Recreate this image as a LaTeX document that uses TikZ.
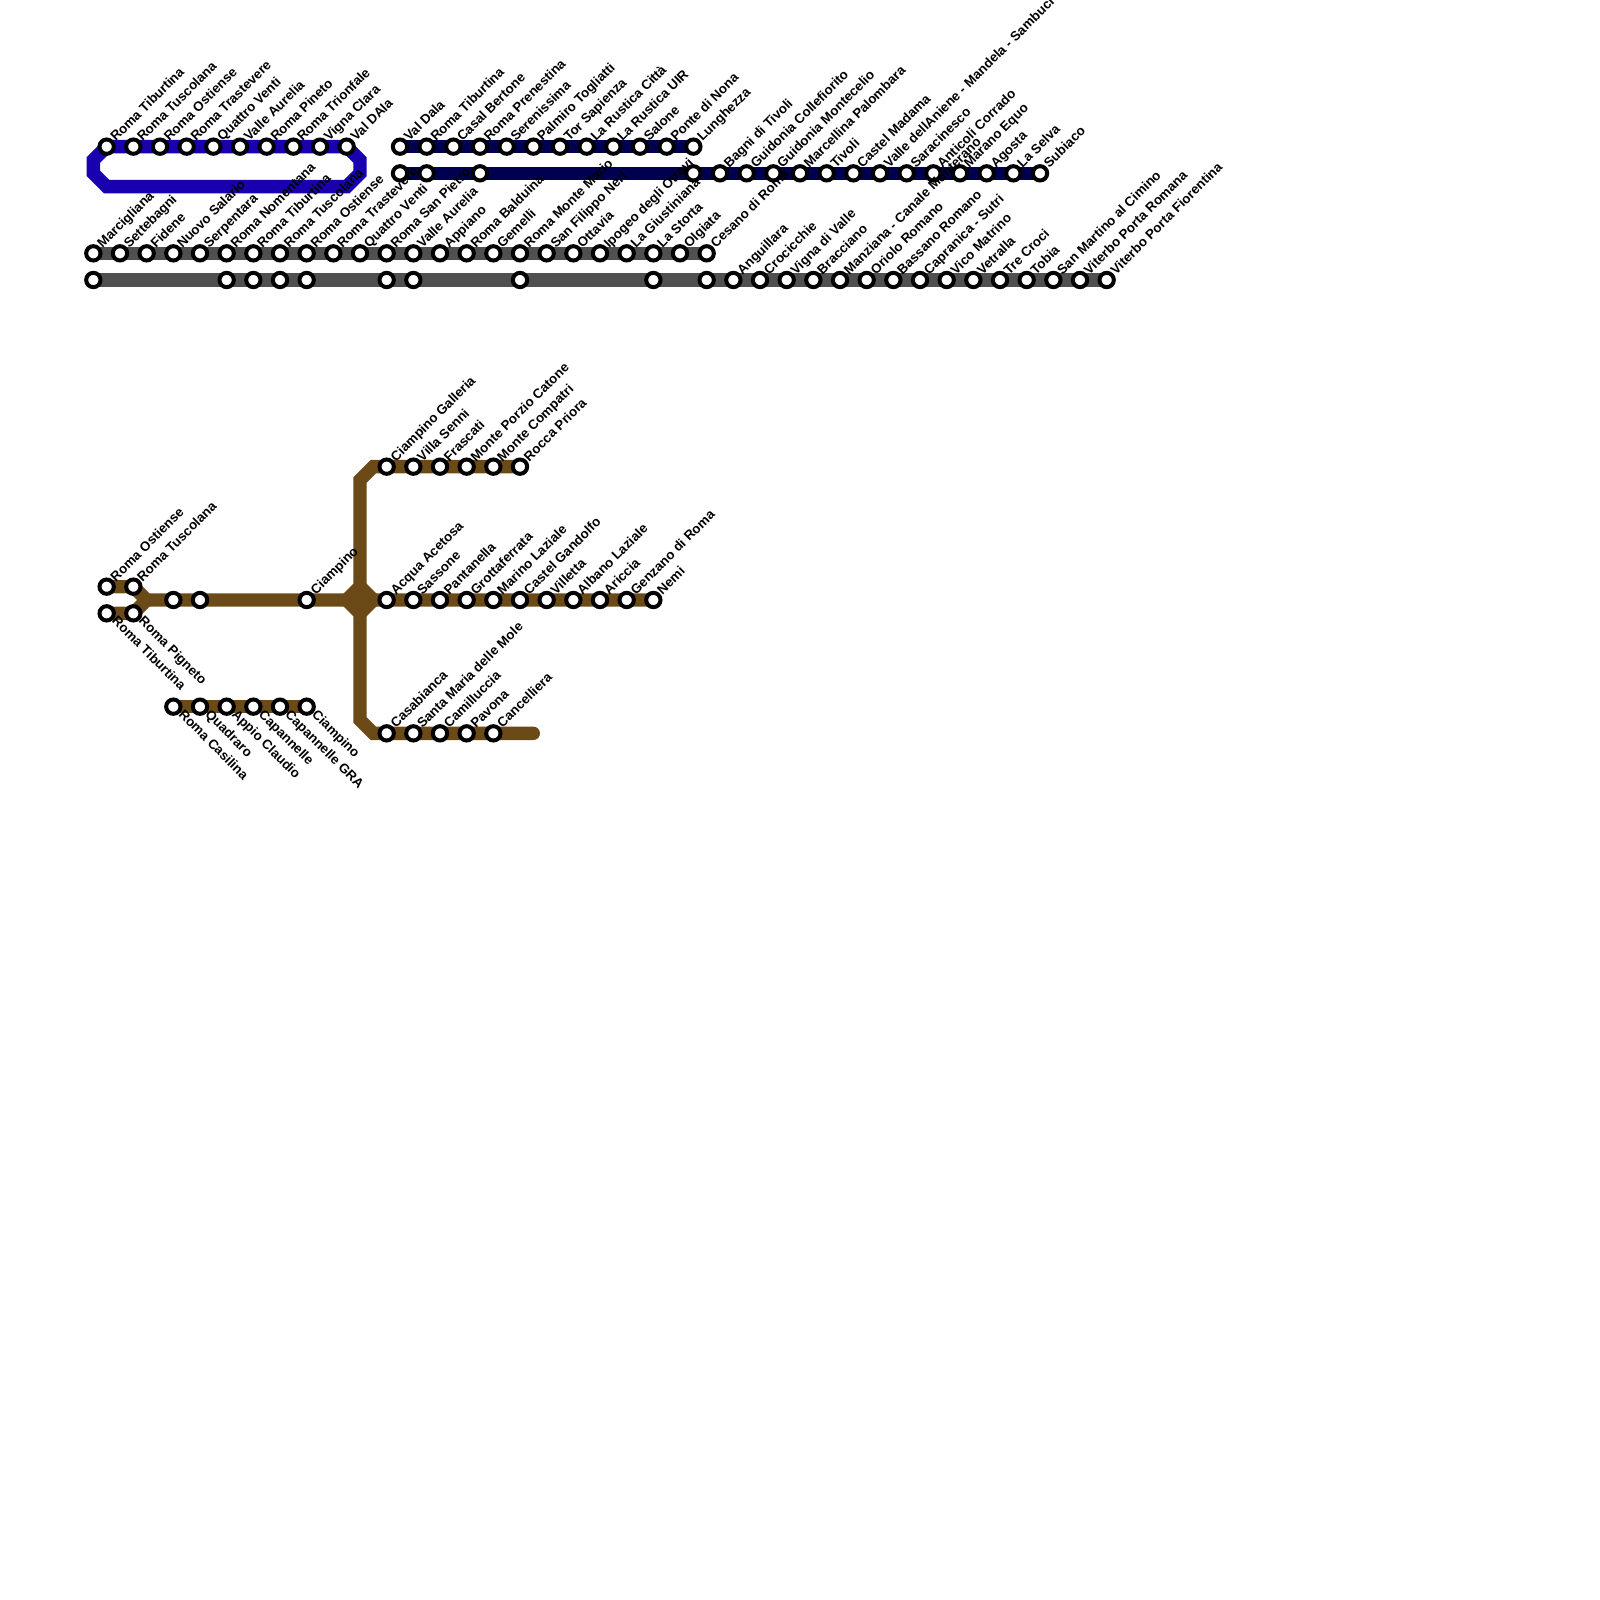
\documentclass[tikz,border=0pt]{standalone}
\usepackage{fontspec}
\setmainfont{Liberation Sans}
\usepackage{xcolor}
\usetikzlibrary{backgrounds}
\definecolor{lineblue}{HTML}{1800B0}
\definecolor{linenavy}{HTML}{000050}
\definecolor{linegray}{HTML}{505050}
\definecolor{linebrown}{HTML}{6B4A17}
\newcommand{\stopup}[4]{%
    % #1=name, #2=x, #3=y, #4=label
    \node[stop] (#1) at (#2,#3) {};
    \node[stopnameup] (#1l) at ([shift={(0.135cm,0.065cm)}]#1.center) {#4};
}
\newcommand{\stopdown}[4]{%
    % #1=name, #2=x, #3=y, #4=label
    \node[stop] (#1) at (#2,#3) {};
    \node[stopnamedown] (#1l) at ([shift={(0.065cm,-0.125cm)}]#1.center) {#4};
}
\newcommand{\stopbare}[3]{%
    % #1=name, #2=x, #3=y
    \node[stop] (#1) at (#2,#3) {};
}

\begin{document}
\begin{tikzpicture}[x=0.4cm, y=-0.4cm,
    stop/.style={circle, draw=black, fill=white, line width=0.06cm, minimum size=0.215cm, inner sep=0pt, outer sep=0pt},
    stopnameup/.style={rotate=45, anchor=base west, inner sep=0pt, font=\fontsize{5.69}{6}\selectfont\bfseries},
    stopnamedown/.style={rotate=-45, anchor=base west, inner sep=0pt, font=\fontsize{5.69}{6}\selectfont\bfseries},
    track/.style={line width=0.2cm, line cap=round, miter limit=10}
]
    \useasboundingbox (0,0) rectangle (60,60);

    % Blue loop
    \stopup{bl1}{4}{5.5}{Roma Tiburtina}
    \stopup{bl2}{5}{5.5}{Roma Tuscolana}
    \stopup{bl3}{6}{5.5}{Roma Ostiense}
    \stopup{bl4}{7}{5.5}{Roma Trastevere}
    \stopup{bl5}{8}{5.5}{Quattro Venti}
    \stopup{bl6}{9}{5.5}{Valle Aurelia}
    \stopup{bl7}{10}{5.5}{Roma Pineto}
    \stopup{bl8}{11}{5.5}{Roma Trionfale}
    \stopup{bl9}{12}{5.5}{Vigna Clara}
    \stopup{bl10}{13}{5.5}{Val DAla}
    \coordinate (blnw) at (3.5,6);
    \coordinate (blw) at (3.5,6.5);
    \coordinate (blsw) at (4,7);
    \coordinate (blse) at (13,7);
    \coordinate (ble) at (13.5,6.5);
    \coordinate (blne) at (13.5,6);

    % Navy line - upper row
    \stopup{na1}{15}{5.5}{Val Dala}
    \stopup{na2}{16}{5.5}{Roma Tiburtina}
    \stopup{na3}{17}{5.5}{Casal Bertone}
    \stopup{na4}{18}{5.5}{Roma Prenestina}
    \stopup{na5}{19}{5.5}{Serenissima}
    \stopup{na6}{20}{5.5}{Palmiro Togliatti}
    \stopup{na7}{21}{5.5}{Tor Sapienza}
    \stopup{na8}{22}{5.5}{La Rustica Città}
    \stopup{na9}{23}{5.5}{La Rustica UIR}
    \stopup{na10}{24}{5.5}{Salone}
    \stopup{na11}{25}{5.5}{Ponte di Nona}
    \stopup{na12}{26}{5.5}{Lunghezza}

    % Navy line - lower row
    \stopbare{nb1}{15}{6.5}
    \stopbare{nb2}{16}{6.5}
    \stopbare{nb3}{18}{6.5}
    \stopbare{nb4}{26}{6.5}
    \stopup{nb5}{27}{6.5}{Bagni di Tivoli}
    \stopup{nb6}{28}{6.5}{Guidonia Collefiorito}
    \stopup{nb7}{29}{6.5}{Guidonia Montecelio}
    \stopup{nb8}{30}{6.5}{Marcellina Palombara}
    \stopup{nb9}{31}{6.5}{Tivoli}
    \stopup{nb10}{32}{6.5}{Castel Madama}
    \stopup{nb11}{33}{6.5}{Valle dellAniene - Mandela - Sambuci}
    \stopup{nb12}{34}{6.5}{Saracinesco}
    \stopup{nb13}{35}{6.5}{Anticoli Corrado}
    \stopup{nb14}{36}{6.5}{Marano Equo}
    \stopup{nb15}{37}{6.5}{Agosta}
    \stopup{nb16}{38}{6.5}{La Selva}
    \stopup{nb17}{39}{6.5}{Subiaco}

    % Gray line - upper row
    \stopup{ga1}{3.5}{9.5}{Marcigliana}
    \stopup{ga2}{4.5}{9.5}{Settebagni}
    \stopup{ga3}{5.5}{9.5}{Fidene}
    \stopup{ga4}{6.5}{9.5}{Nuovo Salario}
    \stopup{ga5}{7.5}{9.5}{Serpentara}
    \stopup{ga6}{8.5}{9.5}{Roma Nomentana}
    \stopup{ga7}{9.5}{9.5}{Roma Tiburtina}
    \stopup{ga8}{10.5}{9.5}{Roma Tuscolana}
    \stopup{ga9}{11.5}{9.5}{Roma Ostiense}
    \stopup{ga10}{12.5}{9.5}{Roma Trastevere}
    \stopup{ga11}{13.5}{9.5}{Quattro Venti}
    \stopup{ga12}{14.5}{9.5}{Roma San Pietro}
    \stopup{ga13}{15.5}{9.5}{Valle Aurelia}
    \stopup{ga14}{16.5}{9.5}{Appiano}
    \stopup{ga15}{17.5}{9.5}{Roma Balduina}
    \stopup{ga16}{18.5}{9.5}{Gemelli}
    \stopup{ga17}{19.5}{9.5}{Roma Monte Mario}
    \stopup{ga18}{20.5}{9.5}{San Filippo Neri}
    \stopup{ga19}{21.5}{9.5}{Ottavia}
    \stopup{ga20}{22.5}{9.5}{Ipogeo degli Ottavi}
    \stopup{ga21}{23.5}{9.5}{La Giustiniana}
    \stopup{ga22}{24.5}{9.5}{La Storta}
    \stopup{ga23}{25.5}{9.5}{Olgiata}
    \stopup{ga24}{26.5}{9.5}{Cesano di Roma}

    % Gray line - lower row
    \stopbare{gb1}{3.5}{10.5}
    \stopbare{gb2}{8.5}{10.5}
    \stopbare{gb3}{9.5}{10.5}
    \stopbare{gb4}{10.5}{10.5}
    \stopbare{gb5}{11.5}{10.5}
    \stopbare{gb6}{14.5}{10.5}
    \stopbare{gb7}{15.5}{10.5}
    \stopbare{gb8}{19.5}{10.5}
    \stopbare{gb9}{24.5}{10.5}
    \stopbare{gb10}{26.5}{10.5}
    \stopup{gb11}{27.5}{10.5}{Anguillara}
    \stopup{gb12}{28.5}{10.5}{Crocicchie}
    \stopup{gb13}{29.5}{10.5}{Vigna di Valle}
    \stopup{gb14}{30.5}{10.5}{Bracciano}
    \stopup{gb15}{31.5}{10.5}{Manziana - Canale Monterano}
    \stopup{gb16}{32.5}{10.5}{Oriolo Romano}
    \stopup{gb17}{33.5}{10.5}{Bassano Romano}
    \stopup{gb18}{34.5}{10.5}{Capranica - Sutri}
    \stopup{gb19}{35.5}{10.5}{Vico Matrino}
    \stopup{gb20}{36.5}{10.5}{Vetralla}
    \stopup{gb21}{37.5}{10.5}{Tre Croci}
    \stopup{gb22}{38.5}{10.5}{Tobia}
    \stopup{gb23}{39.5}{10.5}{San Martino al Cimino}
    \stopup{gb24}{40.5}{10.5}{Viterbo Porta Romana}
    \stopup{gb25}{41.5}{10.5}{Viterbo Porta Fiorentina}

    % Brown line - west end
    \stopup{bw1}{4}{22}{Roma Ostiense}
    \stopup{bw2}{5}{22}{Roma Tuscolana}
    \stopdown{bw3}{4}{23}{Roma Tiburtina}
    \stopdown{bw4}{5}{23}{Roma Pigneto}
    \stopbare{bw5}{6.5}{22.5}
    \stopbare{bw6}{7.5}{22.5}
    \stopup{bw7}{11.5}{22.5}{Ciampino}
    \coordinate (bwfork) at (5.5,22.5);

    % Brown line - junction
    \coordinate (bjw) at (13,22.5);
    \coordinate (bje) at (14,22.5);
    \coordinate (bjn) at (13.5,22);
    \coordinate (bjs) at (13.5,23);
    \coordinate (btc) at (13.5,18);
    \coordinate (btd) at (14,17.5);
    \coordinate (bsc) at (13.5,27);
    \coordinate (bsd) at (14,27.5);

    % Brown line - upper branch
    \stopup{bt1}{14.5}{17.5}{Ciampino Galleria}
    \stopup{bt2}{15.5}{17.5}{Villa Senni}
    \stopup{bt3}{16.5}{17.5}{Frascati}
    \stopup{bt4}{17.5}{17.5}{Monte Porzio Catone}
    \stopup{bt5}{18.5}{17.5}{Monte Compatri}
    \stopup{bt6}{19.5}{17.5}{Rocca Priora}

    % Brown line - middle branch
    \stopup{bm1}{14.5}{22.5}{Acqua Acetosa}
    \stopup{bm2}{15.5}{22.5}{Sassone}
    \stopup{bm3}{16.5}{22.5}{Pantanella}
    \stopup{bm4}{17.5}{22.5}{Grottaferrata}
    \stopup{bm5}{18.5}{22.5}{Marino Laziale}
    \stopup{bm6}{19.5}{22.5}{Castel Gandolfo}
    \stopup{bm7}{20.5}{22.5}{Villetta}
    \stopup{bm8}{21.5}{22.5}{Albano Laziale}
    \stopup{bm9}{22.5}{22.5}{Ariccia}
    \stopup{bm10}{23.5}{22.5}{Genzano di Roma}
    \stopup{bm11}{24.5}{22.5}{Nemi}

    % Brown line - lower branch
    \stopup{bs1}{14.5}{27.5}{Casabianca}
    \stopup{bs2}{15.5}{27.5}{Santa Maria delle Mole}
    \stopup{bs3}{16.5}{27.5}{Camilluccia}
    \stopup{bs4}{17.5}{27.5}{Pavona}
    \stopup{bs5}{18.5}{27.5}{Cancelliera}
    \coordinate (bsend) at (20,27.5);

    % Brown line - south row
    \stopdown{bc1}{6.5}{26.5}{Roma Casilina}
    \stopdown{bc2}{7.5}{26.5}{Quadraro}
    \stopdown{bc3}{8.5}{26.5}{Appio Claudio}
    \stopdown{bc4}{9.5}{26.5}{Capannelle}
    \stopdown{bc5}{10.5}{26.5}{Capannelle GRA}
    \stopdown{bc6}{11.5}{26.5}{Ciampino}

    % Tracks go behind the stops
    \begin{scope}[on background layer]
        \draw[track, lineblue] (bl1.center) -- (blnw) -- (blw) -- (blsw) -- (blse) -- (ble) -- (blne) -- (bl10.center) -- cycle;
        \draw[track, linenavy] (na1.center) -- (na12.center);
        \draw[track, linenavy] (nb1.center) -- (nb17.center);
        \draw[track, linegray] (ga1.center) -- (ga24.center);
        \draw[track, linegray] (gb1.center) -- (gb25.center);
        \draw[track, linebrown] (bw1.center) -- (bw2.center) -- (bwfork) -- (bm11.center);
        \draw[track, linebrown] (bw3.center) -- (bw4.center) -- (bwfork);
        \draw[track, linebrown] (bjw) -- (bjn) -- (btc) -- (btd) -- (bt6.center);
        \draw[track, linebrown] (bjw) -- (bjs) -- (bsc) -- (bsd) -- (bsend);
        \draw[track, linebrown] (bjn) -- (bje) -- (bjs);
        \draw[track, linebrown] (bc1.center) -- (bc6.center);
    \end{scope}
\end{tikzpicture}
\end{document}
